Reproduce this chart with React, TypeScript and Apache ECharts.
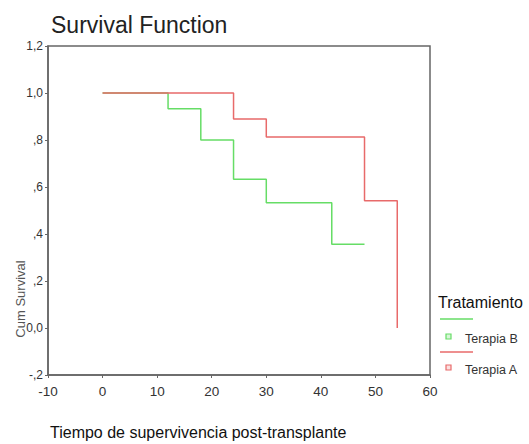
import React, { useEffect, useRef } from "react";
import * as echarts from "echarts";

const titleText = "Survival Function";
const xAxisName = "Tiempo de supervivencia post-transplante";
const yAxisName = "Cum Survival";
const legendTitle = "Tratamiento";
const seriesNames = ["Terapia B", "Terapia A"];
const seriesColors = ["#66dd66", "#e86a6a"];

// Kaplan-Meier steps: [time, cumulative survival]
const terapiaB: [number, number][] = [
  [0, 1.0],
  [12, 0.933],
  [18, 0.8],
  [24, 0.633],
  [30, 0.533],
  [42, 0.356],
  [48, 0.356],
];
const terapiaA: [number, number][] = [
  [0, 1.0],
  [24, 0.889],
  [30, 0.813],
  [48, 0.542],
  [54, 0.0],
];

const xMin = -10, xMax = 60, xInterval = 10;
const yMin = -0.2, yMax = 1.2, yInterval = 0.2;

function fmtY(v: number): string {
  const r = Math.round(v * 10) / 10;
  if (Math.abs(r) < 1e-9) return "0,0";
  if (Math.abs(r) >= 1) return r.toFixed(1).replace(".", ",");
  const d = Math.round(Math.abs(r) * 10);
  return (r < 0 ? "-" : "") + "," + d;
}

export default function App() {
  const ref = useRef<HTMLDivElement>(null);
  useEffect(() => {
    document.body.style.margin = "0";
    if (!ref.current) return;
    const chart = echarts.init(ref.current, null, { renderer: "svg" });
    const font = "Liberation Sans, Arial, sans-serif";
    chart.setOption({
      animation: false,
      backgroundColor: "#ffffff",
      title: {
        text: titleText,
        left: 46,
        top: 8,
        textStyle: { fontFamily: font, fontSize: 23, fontWeight: "normal", color: "#222" },
      },
      grid: {
        left: 48,
        right: 99,
        top: 46,
        bottom: 69,
        show: true,
        borderColor: "#666",
        borderWidth: 1.5,
        outerBoundsMode: "none",
        containLabel: false,
      },
      xAxis: {
        type: "value",
        min: xMin,
        max: xMax,
        interval: xInterval,
        splitLine: { show: false },
        axisLine: { show: true, onZero: false, lineStyle: { color: "#666", width: 1.5 } },
        axisTick: { show: true, length: 3, lineStyle: { color: "#666" } },
        axisLabel: { fontFamily: font, fontSize: 13.5, color: "#333", margin: 9 },
      },
      yAxis: {
        type: "value",
        min: yMin,
        max: yMax,
        interval: yInterval,
        splitLine: { show: false },
        axisLine: { show: true, onZero: false, lineStyle: { color: "#666", width: 1.5 } },
        axisTick: { show: true, length: 3, lineStyle: { color: "#666" } },
        axisLabel: { fontFamily: font, fontSize: 12, color: "#333", margin: 5, formatter: fmtY },
      },
      series: [
        {
          name: seriesNames[0],
          type: "line",
          step: "end",
          data: terapiaB,
          symbol: "none",
          lineStyle: { color: seriesColors[0], width: 1.5 },
          z: 2,
        },
        {
          name: seriesNames[1],
          type: "line",
          step: "end",
          data: terapiaA,
          symbol: "none",
          lineStyle: { color: seriesColors[1], width: 1.5 },
          z: 3,
        },
      ],
      graphic: [
        {
          type: "text",
          x: 20,
          y: 299,
          rotation: Math.PI / 2,
          style: {
            text: yAxisName,
            fontFamily: font,
            fontSize: 13,
            fill: "#555",
            align: "center",
            verticalAlign: "middle",
          },
        },
        {
          type: "text",
          x: 50,
          y: 432,
          style: {
            text: xAxisName,
            fontFamily: font,
            fontSize: 16,
            fill: "#111",
            align: "left",
            verticalAlign: "middle",
          },
        },
        {
          type: "text",
          x: 438,
          y: 302,
          style: { text: legendTitle, fontFamily: font, fontSize: 16, fill: "#111", align: "left", verticalAlign: "middle" },
        },
        {
          type: "line",
          shape: { x1: 440, y1: 319, x2: 473, y2: 319 },
          style: { stroke: seriesColors[0], lineWidth: 1.5 },
        },
        {
          type: "rect",
          shape: { x: 446, y: 334, width: 5, height: 5 },
          style: { fill: "#d8f5d8", stroke: seriesColors[0], lineWidth: 1.2 },
        },
        {
          type: "text",
          x: 465,
          y: 339,
          style: { text: seriesNames[0], fontFamily: font, fontSize: 12.5, fill: "#333", align: "left", verticalAlign: "middle" },
        },
        {
          type: "line",
          shape: { x1: 440, y1: 352, x2: 473, y2: 352 },
          style: { stroke: seriesColors[1], lineWidth: 1.5 },
        },
        {
          type: "rect",
          shape: { x: 446, y: 365, width: 5, height: 5 },
          style: { fill: "#fbe0e0", stroke: seriesColors[1], lineWidth: 1.2 },
        },
        {
          type: "text",
          x: 465,
          y: 370,
          style: { text: seriesNames[1], fontFamily: font, fontSize: 12.5, fill: "#333", align: "left", verticalAlign: "middle" },
        },
      ],
    });
    return () => chart.dispose();
  }, []);
  return <div ref={ref} style={{ width: 529, height: 444 }} />;
}
